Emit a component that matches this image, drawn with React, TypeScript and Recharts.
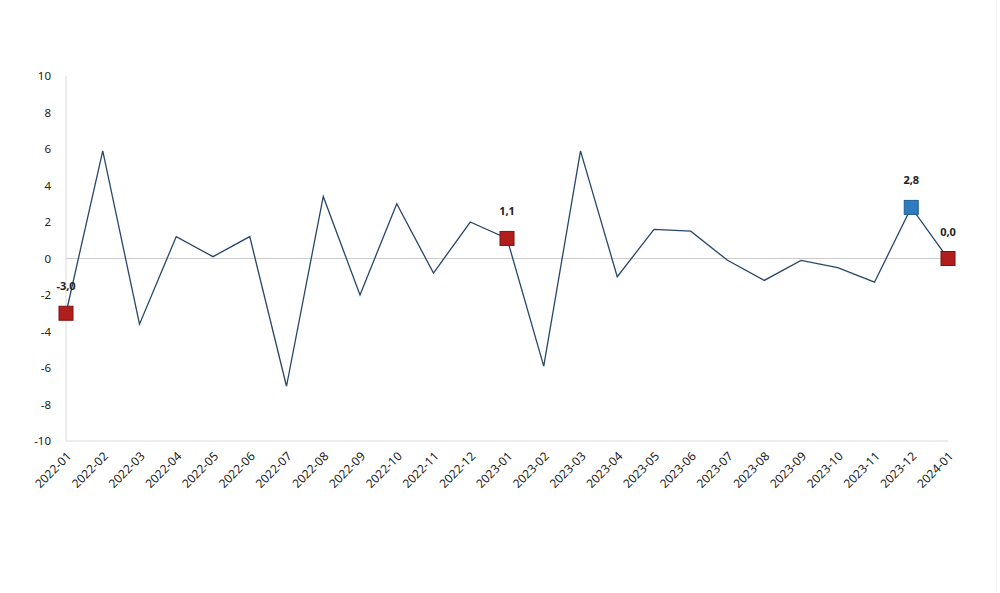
import React from "react";
import { LineChart, Line, XAxis, YAxis, ReferenceLine } from "recharts";

const months = [
  "2022-01", "2022-02", "2022-03", "2022-04", "2022-05", "2022-06", "2022-07",
  "2022-08", "2022-09", "2022-10", "2022-11", "2022-12", "2023-01", "2023-02",
  "2023-03", "2023-04", "2023-05", "2023-06", "2023-07", "2023-08", "2023-09",
  "2023-10", "2023-11", "2023-12", "2024-01",
];
const values = [
  -3.0, 5.9, -3.6, 1.2, 0.1, 1.2, -7.0, 3.4, -2.0, 3.0, -0.8, 2.0, 1.1, -5.9,
  5.9, -1.0, 1.6, 1.5, -0.1, -1.2, -0.1, -0.5, -1.3, 2.8, 0.0,
];
const yTicks = [-10, -8, -6, -4, -2, 0, 2, 4, 6, 8, 10];
const highlightIdx = [0, 12, 23, 24];
const blueIdx = [23];

const data = months.map((m, i) => ({ month: m, value: values[i] }));

const fmt = (v: number) => v.toFixed(1).replace(".", ",");

const Dot = (props: any) => {
  const { cx, cy, index } = props;
  if (!highlightIdx.includes(index)) return <g key={`d${index}`} />;
  const blue = blueIdx.includes(index);
  const s = 14;
  return (
    <g key={`d${index}`}>
      <rect
        x={cx - s / 2}
        y={cy - s / 2}
        width={s}
        height={s}
        fill={blue ? "#2E7BC0" : "#B01E1E"}
        stroke={blue ? "#1F5F99" : "#7E1010"}
        strokeWidth={1}
      />
    </g>
  );
};

const Label = (props: any) => {
  const { x, y, index, value } = props;
  if (!highlightIdx.includes(index)) return null;
  return (
    <text
      x={x}
      y={y - 23}
      textAnchor="middle"
      fontSize={11}
      fontWeight="bold"
      fill="#222"
      fontFamily="'Noto Sans', sans-serif"
    >
      {fmt(value)}
    </text>
  );
};

const XTick = (props: any) => {
  const { x, y, payload } = props;
  return (
    <g transform={`translate(${x + 6},${y + 8})`}>
      <text
        x={0}
        y={0}
        textAnchor="end"
        transform="rotate(-45)"
        fontSize={12}
        fill="#222"
        fontFamily="'Noto Sans', sans-serif"
      >
        {payload.value}
      </text>
    </g>
  );
};

export default function App() {
  return (
    <div style={{ position: "absolute", left: 0, top: 0, width: 1000, height: 593, background: "#fff" }}>
      <LineChart
        width={1000}
        height={593}
        data={data}
        margin={{ top: 76, right: 52, left: 26, bottom: 92 }}
      >
        <XAxis
          dataKey="month"
          interval={0}
          tick={<XTick />}
          tickLine={false}
          axisLine={{ stroke: "#DADADA" }}
          height={60}
          padding={{ left: 0, right: 0 }}
        />
        <YAxis
          domain={[-10, 10]}
          ticks={yTicks}
          width={40}
          tickLine={false}
          tickSize={0}
          tickMargin={15}
          axisLine={{ stroke: "#DADADA" }}
          tick={{ fontSize: 11.5, fill: "#222", fontFamily: "'Noto Sans', sans-serif" }}
        />
        <ReferenceLine y={0} stroke="#CCCCCC" strokeWidth={1} />
        <Line
          type="linear"
          dataKey="value"
          stroke="#27466A"
          strokeWidth={1.3}
          dot={<Dot />}
          activeDot={false}
          label={<Label />}
          isAnimationActive={false}
        />
      </LineChart>
      <div style={{ position: "absolute", left: 996, top: 0, width: 1, height: 593, background: "#F0F2F5" }} />
    </div>
  );
}
